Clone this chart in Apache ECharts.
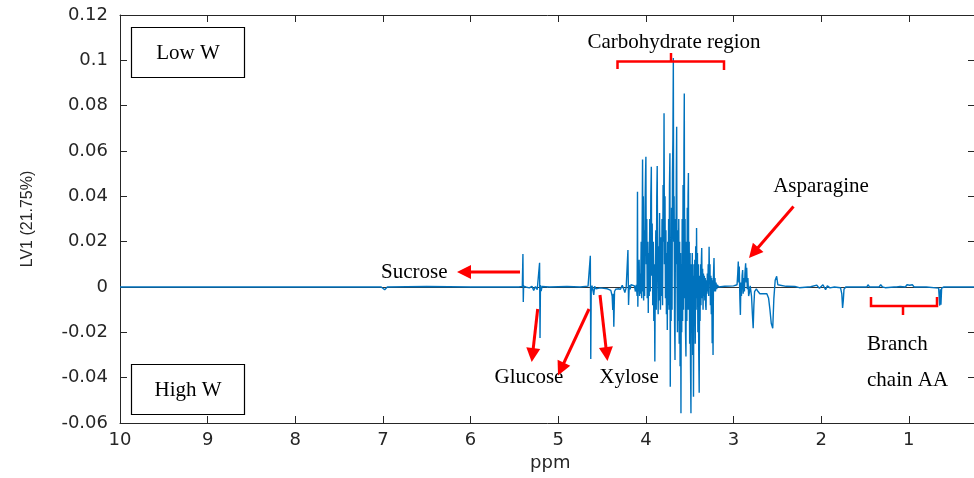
<!DOCTYPE html>
<html>
<head>
<meta charset="utf-8">
<script src="https://cdn.jsdelivr.net/npm/echarts@6/dist/echarts.min.js"></script>
<style>html,body{margin:0;padding:0;background:#fff;}#c{width:974px;height:478px;}</style>
</head>
<body>
<div id="c"></div>
<script>
// x axis ticks (ppm), y axis ticks
const xTicks = [10, 9, 8, 7, 6, 5, 4, 3, 2, 1];
const yTicks = [-0.06, -0.04, -0.02, 0, 0.02, 0.04, 0.06, 0.08, 0.1, 0.12];

// chemical shift (ppm) of each spectrum point
const ppm = [
10, 8.0, 7.02, 6.98, 6.95, 6.5, 6.0, 5.5, 5.45, 5.41, 5.403, 5.399, 5.395, 5.37, 5.33, 5.30, 5.28, 5.26, 5.24, 5.225, 5.213, 5.208, 5.203, 5.195, 5.185, 5.1, 4.9, 4.75, 4.66, 4.634, 4.629, 4.624, 4.615, 4.605, 4.595, 4.585, 4.57, 4.55,
4.52, 4.48, 4.44, 4.40, 4.385, 4.378, 4.372, 4.366, 4.358, 4.345, 4.32, 4.29, 4.27, 4.25, 4.24, 4.225, 4.205, 4.198, 4.19, 4.18, 4.17, 4.15,
4.13, 4.12, 4.11, 4.10, 4.096, 4.092, 4.088, 4.082, 4.077, 4.072, 4.066, 4.06, 4.054, 4.048, 4.042, 4.038, 4.034, 4.03, 4.026, 4.02, 4.015, 4.01, 4.004, 4.0, 3.996, 3.99, 3.985, 3.978, 3.973, 3.968, 3.962, 3.956, 3.95, 3.944, 3.938, 3.934, 3.928, 3.922, 3.916, 3.91, 3.904, 3.898, 3.893, 3.887, 3.882, 3.876, 3.871, 3.866, 3.86, 3.855, 3.85, 3.844, 3.839, 3.834, 3.828, 3.822, 3.816, 3.81, 3.804, 3.798, 3.793, 3.788, 3.782, 3.777, 3.772, 3.766, 3.761, 3.756, 3.751, 3.746, 3.741, 3.736, 3.731, 3.726, 3.722, 3.717, 3.712, 3.707, 3.702, 3.697, 3.692, 3.687, 3.683, 3.678, 3.673, 3.668, 3.663, 3.658, 3.653, 3.649, 3.645, 3.64, 3.635, 3.63, 3.625, 3.62, 3.615, 3.61, 3.605, 3.6, 3.596, 3.591, 3.586, 3.581, 3.576, 3.571, 3.566, 3.562, 3.558, 3.553, 3.548, 3.543, 3.538, 3.533, 3.528, 3.523, 3.519, 3.515, 3.511, 3.506, 3.501, 3.496, 3.491, 3.486, 3.481, 3.476, 3.471, 3.466, 3.461, 3.457, 3.452, 3.447, 3.442, 3.437, 3.432, 3.427, 3.422, 3.417, 3.412, 3.407, 3.402, 3.397, 3.392, 3.387, 3.382, 3.377, 3.372, 3.367, 3.363, 3.358, 3.353, 3.348, 3.343, 3.338, 3.333, 3.328, 3.323, 3.318, 3.314, 3.309, 3.304, 3.299, 3.294, 3.289, 3.284, 3.279, 3.274, 3.269, 3.264, 3.259, 3.254, 3.249, 3.244, 3.239, 3.234, 3.229, 3.223, 3.218, 3.212, 3.206, 3.2, 3.192, 3.185, 3.17, 3.15,
3.10, 3.0, 2.96, 2.952, 2.946, 2.94, 2.935, 2.928, 2.922, 2.916, 2.91, 2.902, 2.896, 2.89, 2.884, 2.876, 2.87, 2.862, 2.856, 2.85, 2.843, 2.836, 2.828, 2.82, 2.81, 2.795, 2.785, 2.776, 2.768, 2.76, 2.74, 2.72, 2.70, 2.68, 2.66, 2.64, 2.62, 2.60, 2.585, 2.57, 2.553, 2.54, 2.525, 2.508, 2.495, 2.48,
2.40, 2.30, 2.25, 2.12, 2.05, 2.02, 1.98, 1.95, 1.93, 1.90, 1.85, 1.78, 1.765, 1.756, 1.748, 1.74, 1.72, 1.60, 1.48, 1.463, 1.45, 1.34, 1.321, 1.30, 1.27, 1.17, 1.158, 1.14, 1.10, 1.04, 1.021, 1.0, 0.99, 0.975, 0.96, 0.94, 0.92, 0.80, 0.66, 0.648, 0.64, 0.634, 0.626, 0.6, 0.4, 0.2
];
// LV1 loading at each point
const lv1 = [
0, 0, 0, -0.0012, 0, 0.0002, 0, 0, 0, 0.0003, 0.0146, -0.0066, 0.0004, 0, -0.0004, 0.0003, -0.0015, 0.0002, -0.0012, -0.002, 0.0107, -0.0225, 0.0008, -0.0018, 0.0002, 0, 0.0002, 0, 0.0004, 0.0138, -0.0318, -0.002, 0.0006, -0.0014, -0.0035, 0.0003, -0.0008, -0.0003,
-0.0004, -0.0006, -0.0008, -0.0015, -0.004, -0.0101, -0.003, -0.0175, -0.002, -0.001, -0.0008, -0.001, 0.0008, -0.0012, -0.0025, -0.0003, 0.0163, -0.0079, 0.0008, -0.001, 0.001, 0.0003,
0.0005, -0.002, 0.001, -0.004, 0.042, -0.0087, 0.003, -0.002, 0.012, -0.004, 0.006, -0.003, 0.02, -0.005, 0.03, 0.0563, -0.002, 0.04, -0.006, 0.025, -0.004, 0.035, 0.05, 0.0575, 0.01, 0.03, -0.005, 0.02, -0.0115, 0.015, -0.004, 0.03, -0.002, 0.04, 0.0531, 0.005, 0.028, -0.008, 0.02, -0.015, 0.01, -0.0329, 0.005, 0.025, -0.01, 0.04, 0.0534, 0.008, -0.012, 0.018, -0.006, 0.0326, 0.004, -0.01, 0.022, -0.004, 0.03, -0.008, 0.045, 0.02, 0.0766, 0.01, 0.04, -0.005, 0.025, -0.012, 0.015, -0.019, 0.02, -0.008, 0.03, -0.01, 0.045, 0.059, -0.044, 0.02, -0.015, 0.035, -0.01, 0.05, 0.065, 0.101, 0.02, 0.04, -0.015, -0.0322, 0.03, 0.01, 0.05, 0.0707, 0.005, -0.02, 0.025, -0.015, 0.03, -0.025, 0.02, -0.035, 0.015, -0.0557, 0.01, -0.02, 0.03, -0.015, 0.045, -0.01, 0.06, 0.0854, -0.005, 0.03, -0.02, -0.0307, 0.02, -0.015, 0.035, -0.01, 0.04, 0.0503, -0.01, 0.02, -0.025, 0.015, -0.035, -0.0557, 0.01, -0.02, 0.015, -0.03, 0.005, -0.0484, 0.01, -0.015, 0.012, -0.025, 0.018, -0.01, 0.026, -0.005, 0.015, -0.02, 0.01, -0.03, -0.0467, 0.005, -0.015, 0.01, -0.008, 0.012, 0.0172, -0.005, 0.008, -0.01, 0.006, -0.004, 0.005, -0.006, 0.004, -0.008, -0.0101, 0.003, -0.003, 0.006, -0.002, 0.01, -0.004, 0.0178, 0.002, 0.01, -0.008, 0.005, -0.012, 0.004, -0.0248, 0.003, -0.03, 0.005, 0.0128, -0.002, 0.004, -0.002, 0.002, -0.001, 0.001, 0, 0.0003,
0.0003, 0.0005, 0.001, 0.006, 0.0112, 0.002, 0.009, -0.005, -0.0123, 0.002, -0.004, 0.005, 0.0075, -0.003, 0.004, -0.002, 0.006, 0.0105, 0.002, 0.0085, -0.001, 0.004, -0.004, -0.0026, 0.0005, -0.004, -0.012, -0.0182, -0.008, -0.002, -0.0008, -0.002, -0.003, -0.0035, -0.003, -0.0025, -0.003, -0.005, -0.01, -0.016, -0.0182, -0.005, 0.003, 0.0047, 0.001, 0.0002,
0.0003, 0.0002, -0.0003, 0.0001, 0.0008, -0.0006, 0.001, -0.0012, 0.0005, -0.0004, 0, -0.0003, -0.003, -0.0092, -0.006, -0.001, 0, 0, 0, 0.001, 0, 0, 0.001, 0, -0.0003, 0, 0.0006, 0, 0.0002, 0, 0.001, 0.0003, 0.0008, 0.0002, 0.001, 0, 0.0002, 0, -0.0005, -0.0082, -0.001, -0.0078, -0.0005, 0, 0, 0
];

const seriesData = ppm.map((p, i) => [p, lv1[i]]);

const axisColor = '#262626';
const red = '#ff0000';
const serif = '"Liberation Serif", "Times New Roman", serif';

function arrow(x1, y1, x2, y2) {
  const dx = x2 - x1, dy = y2 - y1;
  const L = Math.sqrt(dx * dx + dy * dy);
  const ux = dx / L, uy = dy / L;
  const hl = 14, hw = 7;
  const bx = x2 - ux * hl, by = y2 - uy * hl;
  return [
    { type: 'line', shape: { x1: x1, y1: y1, x2: bx + ux * 2, y2: by + uy * 2 }, style: { stroke: red, lineWidth: 3 }, z: 100 },
    { type: 'polygon', shape: { points: [[x2, y2], [bx - uy * hw, by + ux * hw], [bx + uy * hw, by - ux * hw]] }, style: { fill: red }, z: 100 }
  ];
}
function label(text, x, y, align) {
  return { type: 'text', z: 100, style: { text: text, x: x, y: y, font: '21px ' + serif, fill: '#000', align: align || 'center', verticalAlign: 'middle' } };
}

const graphics = [].concat(
  [
    { type: 'rect', z: 100, shape: { x: 131.5, y: 27.5, width: 113, height: 50 }, style: { fill: '#fff', stroke: '#000', lineWidth: 1.2 } },
    label('Low W', 188, 53),
    { type: 'rect', z: 100, shape: { x: 131.5, y: 364.5, width: 113, height: 50 }, style: { fill: '#fff', stroke: '#000', lineWidth: 1.2 } },
    label('High W', 188, 390),
    label('Carbohydrate region', 674, 42),
    { type: 'polyline', z: 100, shape: { points: [[617.5, 69], [617.5, 61.5], [724, 61.5], [724, 70]] }, style: { stroke: red, lineWidth: 2.5, fill: null } },
    { type: 'line', z: 100, shape: { x1: 671, y1: 61.5, x2: 671, y2: 53 }, style: { stroke: red, lineWidth: 2.5 } },
    label('Sucrose', 381, 272, 'left'),
    label('Glucose', 529, 377),
    label('Xylose', 629, 377),
    label('Asparagine', 821, 186),
    { type: 'polyline', z: 100, shape: { points: [[871, 297], [871, 306], [937, 306], [937, 297]] }, style: { stroke: red, lineWidth: 2.5, fill: null } },
    { type: 'line', z: 100, shape: { x1: 903, y1: 306, x2: 903, y2: 315 }, style: { stroke: red, lineWidth: 2.5 } },
    label('Branch', 867, 344, 'left'),
    label('chain AA', 867, 380, 'left')
  ],
  arrow(520, 272, 457, 272),
  arrow(537.7, 309, 531.7, 362),
  arrow(589, 309, 558, 375.5),
  arrow(600, 295, 607.5, 361),
  arrow(793.5, 206.5, 749, 258)
);

const chart = echarts.init(document.getElementById('c'), null, { renderer: 'canvas' });
const tickFont = { fontFamily: '"DejaVu Sans", sans-serif', fontSize: 18, color: axisColor };
chart.setOption({
  animation: false,
  backgroundColor: '#fff',
  grid: { left: 120, top: 15, width: 876.5, height: 408, containLabel: false, outerBoundsMode: 'none' },
  xAxis: [
    {
      type: 'value', min: xTicks[xTicks.length - 1] - 1, max: xTicks[0], interval: 1, inverse: true, position: 'bottom',
      name: 'ppm', nameLocation: 'middle', nameGap: 28,
      nameTextStyle: { fontFamily: '"DejaVu Sans", sans-serif', fontSize: 18, color: axisColor, padding: [0, 16, 0, 0] },
      axisLine: { onZero: false, lineStyle: { color: axisColor, width: 1 } },
      axisTick: { inside: true, length: 7, lineStyle: { color: axisColor } },
      axisLabel: Object.assign({ margin: 8, formatter: v => (xTicks.indexOf(v) >= 0 ? String(v) : '') }, tickFont),
      splitLine: { show: false }
    },
    {
      type: 'value', min: xTicks[xTicks.length - 1] - 1, max: xTicks[0], interval: 1, inverse: true, position: 'top',
      axisLine: { onZero: false, lineStyle: { color: axisColor, width: 1 } },
      axisTick: { inside: true, length: 7, lineStyle: { color: axisColor } },
      axisLabel: { show: false },
      splitLine: { show: false }
    }
  ],
  yAxis: [
    {
      type: 'value', min: yTicks[0], max: yTicks[yTicks.length - 1], interval: 0.02,
      name: 'LV1 (21.75%)', nameLocation: 'middle', nameGap: 84, nameRotate: 90,
      nameTextStyle: { fontFamily: '"Liberation Sans", Arial, sans-serif', fontSize: 16, color: axisColor },
      axisLine: { onZero: false, lineStyle: { color: axisColor, width: 1 } },
      axisTick: { inside: true, length: 7, lineStyle: { color: axisColor } },
      axisLabel: Object.assign({ margin: 12, formatter: v => String(Math.round(v * 100) / 100) }, tickFont),
      splitLine: { show: false }
    },
    {
      type: 'value', min: yTicks[0], max: yTicks[yTicks.length - 1], interval: 0.02, position: 'right', offset: -22.5,
      axisLine: { show: false, onZero: false },
      axisTick: { inside: true, length: 6, lineStyle: { color: axisColor } },
      axisLabel: { show: false },
      splitLine: { show: false }
    }
  ],
  series: [
    {
      type: 'line',
      data: seriesData,
      showSymbol: false,
      symbol: 'none',
      sampling: null,
      lineStyle: { color: '#0072BD', width: 1.4 },
      itemStyle: { color: '#0072BD' },
      z: 5,
      markLine: {
        silent: true, symbol: 'none', animation: false,
        label: { show: false },
        lineStyle: { color: '#333333', width: 1, type: 'solid' },
        data: [{ yAxis: 0 }]
      }
    }
  ],
  graphic: graphics
});
</script>
</body>
</html>
